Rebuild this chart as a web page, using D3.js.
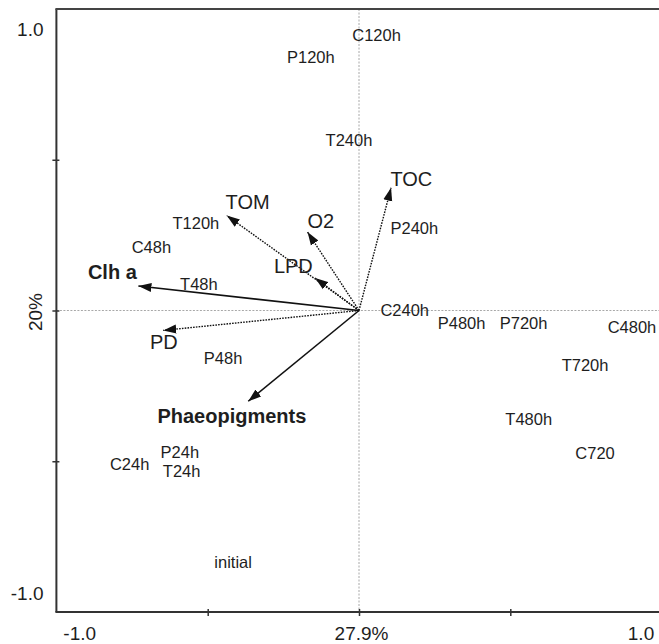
<!DOCTYPE html>
<html>
<head>
<meta charset="utf-8">
<script src="https://cdn.jsdelivr.net/npm/d3@7"></script>
<style>
  html, body { margin: 0; padding: 0; background: #fff; }
  svg { display: block; }
  text { font-family: "Liberation Sans", Arial, sans-serif; fill: #1e1e1e; }
</style>
</head>
<body>
<svg id="chart" width="659" height="644"></svg>
<script>
// ---- Data ----
// Sample scores (axis 1, axis 2)
const sampleNames = ["C120h","P120h","T240h","P240h","T120h","C48h","T48h","C240h","P480h","P720h","C480h","P48h","T720h","T480h","C720","C24h","P24h","T24h","initial"];
const sampleX = [0.058,-0.159,-0.033,0.183,-0.539,-0.686,-0.529,0.151,0.339,0.544,0.902,-0.449,0.747,0.561,0.780,-0.758,-0.592,-0.586,-0.416];
const sampleY = [0.914,0.839,0.564,0.275,0.290,0.212,0.089,0.000,-0.043,-0.040,-0.056,-0.158,-0.180,-0.359,-0.473,-0.508,-0.468,-0.531,-0.835];

// Environmental variable vectors (arrow tips) and their label anchors
const varNames  = ["Clh a","PD","Phaeopigments","TOM","O2","LPD","TOC"];
const varX      = [-0.729,-0.647,-0.366,-0.437,-0.170,-0.145,0.106];
const varY      = [0.081,-0.066,-0.301,0.315,0.260,0.108,0.407];
const varLabelX = [-0.815,-0.645,-0.420,-0.368,-0.126,-0.217,0.173];
const varLabelY = [0.127,-0.105,-0.348,0.360,0.299,0.149,0.438];
const varSolid  = [true,false,true,false,false,false,false];
const varBold   = [true,false,true,false,false,false,false];

// Axis tick values and labels
const tickValues = [-1,-0.5,0,0.5,1];
const xTickLabels = ["-1.0","27.9%","1.0"];
const xTickLabelValues = [-1,0,1];
const yTickLabels = ["1.0","20%","-1.0"];
const yTickLabelValues = [1,0,-1];

// ---- Drawing ----
const svg = d3.select("#chart");
const x = d3.scaleLinear().domain([-1,1]).range([56.4, 661.6]);
const y = d3.scaleLinear().domain([-1,1]).range([612, 9]);

const axisColor = "#333";

// reference (zero) lines
svg.append("line")
  .attr("x1", x(0)).attr("x2", x(0)).attr("y1", y(1)).attr("y2", y(-1))
  .attr("stroke", "#a8a8a8").attr("stroke-width", 1).attr("stroke-dasharray", "2,1.5");
svg.append("line")
  .attr("x1", x(-1)).attr("x2", 659).attr("y1", y(0)).attr("y2", y(0))
  .attr("stroke", "#a8a8a8").attr("stroke-width", 1).attr("stroke-dasharray", "2,1.5");

// axes via d3 axis (ticks crossing the line)
const xAxis = d3.axisBottom(x).tickValues(tickValues.filter(v => v > -1 && v < 1)).tickSize(4).tickFormat("");
const gx = svg.append("g").attr("transform", `translate(0,${y(-1)})`).call(xAxis);
gx.select(".domain").remove();
gx.selectAll(".tick line").attr("y1", -3).attr("y2", 4).attr("stroke", axisColor).attr("stroke-width", 1.5);

const yAxis = d3.axisLeft(y).tickValues(tickValues.filter(v => v > -1 && v < 1)).tickSize(4).tickFormat("");
const gy = svg.append("g").attr("transform", `translate(${x(-1)},0)`).call(yAxis);
gy.select(".domain").remove();
gy.selectAll(".tick line").attr("x1", -4).attr("x2", 3).attr("stroke", axisColor).attr("stroke-width", 1.5);

// frame lines: left, bottom, top
svg.append("line").attr("x1", x(-1)).attr("x2", x(-1)).attr("y1", y(1)).attr("y2", y(-1))
  .attr("stroke", axisColor).attr("stroke-width", 2);
svg.append("line").attr("x1", x(-1) - 1).attr("x2", 659).attr("y1", y(-1)).attr("y2", y(-1))
  .attr("stroke", axisColor).attr("stroke-width", 2);
svg.append("line").attr("x1", x(-1) - 1).attr("x2", 659).attr("y1", y(1)).attr("y2", y(1))
  .attr("stroke", "#444").attr("stroke-width", 2);

// tick labels
svg.selectAll(".xtl").data(xTickLabelValues).enter().append("text")
  .attr("class", "xtl")
  .attr("x", (d) => x(d) + (d === -1 ? 23.3 : d === 1 ? -20.6 : 2.5))
  .attr("y", 633.5)
  .attr("dy", "0.36em")
  .attr("text-anchor", "middle")
  .attr("font-size", 19)
  .text((d, i) => xTickLabels[i]);

svg.selectAll(".ytl").data(yTickLabelValues.filter(v => v !== 0)).enter().append("text")
  .attr("class", "ytl")
  .attr("x", 43.5)
  .attr("y", (d) => y(d) + (d === 1 ? 20 : -19.3))
  .attr("dy", "0.36em")
  .attr("text-anchor", "end")
  .attr("font-size", 19)
  .text((d) => yTickLabels[yTickLabelValues.indexOf(d)]);

svg.append("text")
  .attr("transform", `translate(35,${y(0) + 1.5}) rotate(-90)`)
  .attr("dy", "0.36em")
  .attr("text-anchor", "middle")
  .attr("font-size", 19)
  .text(yTickLabels[1]);

// arrow marker
svg.append("defs").append("marker")
  .attr("id", "head")
  .attr("viewBox", "0 -5 13 10")
  .attr("refX", 13).attr("refY", 0)
  .attr("markerWidth", 13).attr("markerHeight", 10)
  .attr("markerUnits", "userSpaceOnUse")
  .attr("orient", "auto")
  .append("path").attr("d", "M0,-4.5L13,0L0,4.5Z").attr("fill", "#111");

const vars = varNames.map((n, i) => ({n, x: varX[i], y: varY[i], lx: varLabelX[i], ly: varLabelY[i], solid: varSolid[i], bold: varBold[i]}));

svg.selectAll(".vec").data(vars).enter().append("line")
  .attr("class", "vec")
  .attr("x1", x(0)).attr("y1", y(0))
  .attr("x2", d => x(d.x)).attr("y2", d => y(d.y))
  .attr("stroke", "#111")
  .attr("stroke-width", d => d.solid ? 1.6 : 1.4)
  .attr("stroke-dasharray", d => d.solid ? null : "1.6,1.2")
  .attr("marker-end", "url(#head)");

svg.selectAll(".vlab").data(vars).enter().append("text")
  .attr("class", "vlab")
  .attr("x", d => x(d.lx)).attr("y", d => y(d.ly))
  .attr("dy", "0.36em")
  .attr("text-anchor", "middle")
  .attr("font-size", 20)
  .attr("font-weight", d => d.bold ? "bold" : "normal")
  .text(d => d.n);

// sample labels
const samples = sampleNames.map((n, i) => ({n, x: sampleX[i], y: sampleY[i]}));
svg.selectAll(".slab").data(samples).enter().append("text")
  .attr("class", "slab")
  .attr("x", d => x(d.x)).attr("y", d => y(d.y))
  .attr("dy", "0.36em")
  .attr("text-anchor", "middle")
  .attr("font-size", 16.5)
  .text(d => d.n);
</script>
</body>
</html>
